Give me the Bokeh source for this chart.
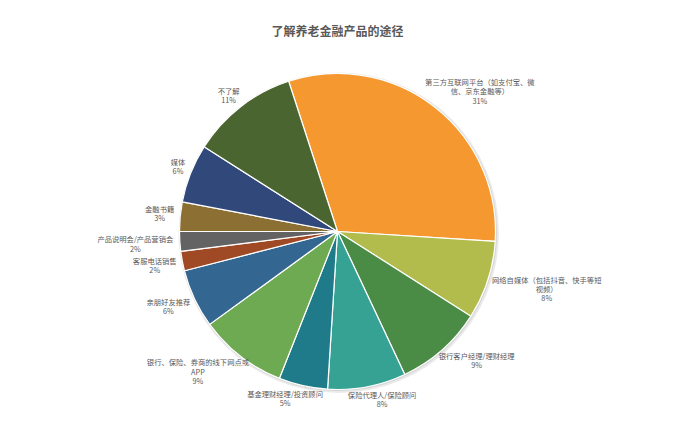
import math
from bokeh.plotting import figure
from bokeh.models import Range1d
from bokeh.core.properties import value
from bokeh.embed import file_html
from bokeh.resources import INLINE

title_text = "了解养老金融产品的途径"
categories = [
    "第三方互联网平台（如支付宝、微\n信、京东金融等）",
    "网络自媒体（包括抖音、快手等短\n视频）",
    "银行客户经理/理财经理",
    "保险代理人/保险顾问",
    "基金理财经理/投资顾问",
    "银行、保险、券商的线下网点或\nAPP",
    "亲朋好友推荐",
    "客服电话销售",
    "产品说明会/产品营销会",
    "金融书籍",
    "媒体",
    "不了解",
]
percents = [31, 8, 9, 8, 5, 9, 6, 2, 2, 3, 6, 11]
colors = ["#F4982F", "#B2BC4C", "#4A8B45", "#36A294", "#1F7B8A", "#6EAA52",
          "#336690", "#A04A25", "#636363", "#8C6F33", "#30497A", "#4A6530"]

W, H = 684, 413
CX, CY, R = 337, 182, 158
START_DEG = 108.0
FS = 7.3
LINE_H = 9.0

total = float(sum(percents))
starts, ends, mids = [], [], []
a = math.radians(START_DEG)
for v in percents:
    span = 2 * math.pi * v / total
    starts.append(a)
    ends.append(a - span)
    mids.append(a - span / 2)
    a -= span

p = figure(width=W, height=H, output_backend="svg", toolbar_location=None,
           x_range=Range1d(0, W), y_range=Range1d(0, H), min_border=0,
           outline_line_color=None, background_fill_color="white",
           border_fill_color="white")
p.axis.visible = False
p.grid.visible = False

# soft shadow ring
p.circle(x=[CX + 1.2], y=[CY - 1.2], radius=R + 2.2, fill_color="#dcdcdc",
         fill_alpha=0.6, line_color=None)
p.circle(x=[CX + 0.6], y=[CY - 0.6], radius=R + 1.0, fill_color="#c4c4c4",
         fill_alpha=0.6, line_color=None)

p.wedge(x=[CX] * len(percents), y=[CY] * len(percents), radius=R,
        start_angle=ends, end_angle=starts, direction="anticlock",
        fill_color=colors, line_color="white", line_width=1.2)


def text_width(s):
    w = 0.0
    for ch in s:
        w += FS * (0.56 if ord(ch) < 128 else 1.0)
    return w


lx, ly, ltxt = [], [], []
gap = 6.0
for cat, v, m in zip(categories, percents, mids):
    txt = cat + "\n" + f"{v}%"
    lines = txt.split("\n")
    hw = max(text_width(s) for s in lines) / 2
    hh = LINE_H * len(lines) / 2
    c, s = math.cos(m), math.sin(m)
    px = (R + gap) * c + math.copysign(hw * abs(c) ** 0.55, c)
    py = (R + gap - 2) * s + math.copysign(hh * math.sqrt(abs(s)), s)
    lx.append(CX + px)
    ly.append(CY + py)
    ltxt.append(txt)

p.text(x=lx, y=ly, text=ltxt, text_align="center", text_baseline="middle",
       text_font=value("Noto Sans CJK SC"), text_font_size=f"{FS}px",
       text_color="#595959", text_line_height=0.93)

p.text(x=[337], y=[383], text=[title_text], text_align="center",
       text_baseline="middle", text_font=value("Noto Sans CJK SC"),
       text_font_size="12px", text_font_style="bold", text_color="#595959")

open("out.html", "w").write(file_html(p, INLINE))
